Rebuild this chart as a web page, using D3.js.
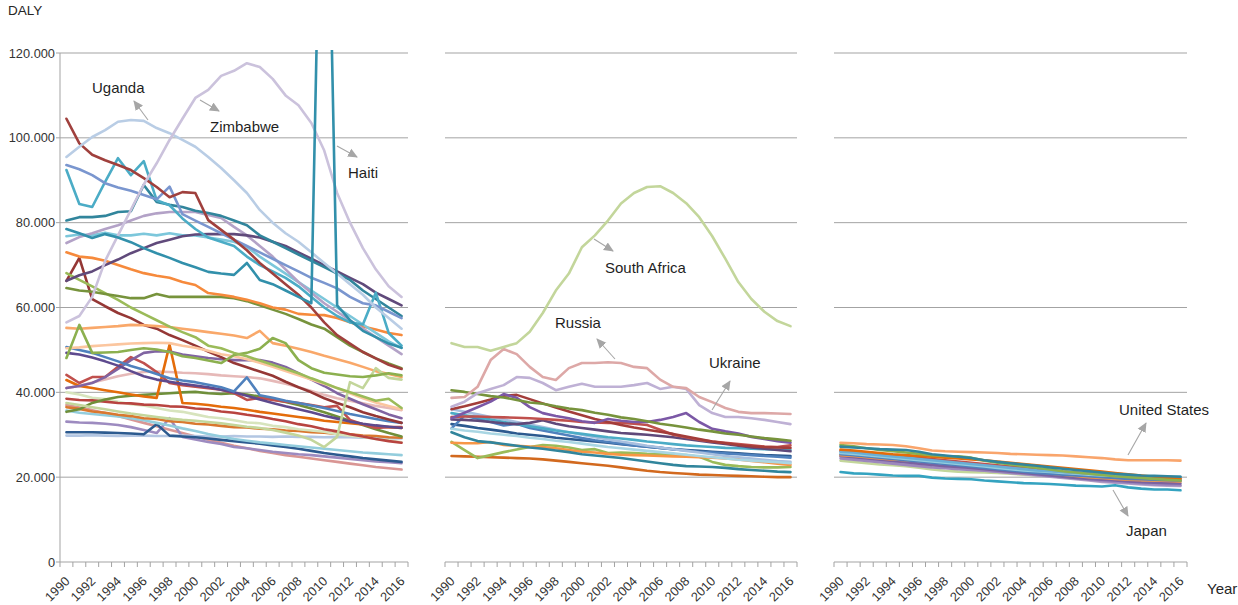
<!DOCTYPE html>
<html><head><meta charset="utf-8">
<script src="https://cdn.jsdelivr.net/npm/d3@7"></script>
<style>
html,body{margin:0;padding:0;background:#fff;}
svg{display:block;font-family:"Liberation Sans",Arial,sans-serif;}
</style></head><body>
<svg id="chart" width="1238" height="605"></svg>
<script>
// Categories and axis ticks (DALY values in thousands)
const years = [1990,1991,1992,1993,1994,1995,1996,1997,1998,1999,2000,2001,2002,2003,2004,2005,2006,2007,2008,2009,2010,2011,2012,2013,2014,2015,2016];
const yTicks = [0,20,40,60,80,100,120];

// ---- Group 1: low- and middle-income countries ----
const zimbabwe   = [56.5,58,62.5,71,77,83,89,94,99.5,104.5,109.4,111.3,114.6,115.8,117.6,116.7,113.9,110,107.7,103.5,97,87,80,74,69,65,62.5];
const uganda     = [95.5,97.9,100.2,101.8,103.8,104.2,104,102.3,101.1,99.5,97.9,95.5,92.9,90,87,83,80,77.5,75.5,73,70.5,68,65.5,63,60,57.5,55];
const g1DarkRed  = [104.5,98.7,96,94.7,93.6,92.4,90.5,88.4,86,87.2,87,80.6,78.3,76,73.5,70.5,68,65.5,63,60,56.5,53.5,51.5,49.5,48,46.5,45.5];
const g1BlueLav  = [93.6,92.6,91.2,89.3,88.3,87.5,86.5,85.5,88.5,82,80.5,79,77.5,76,74.5,73,71.5,70,68.5,67,65.8,64.5,62.5,61,60.5,59,57.5];
const g1Cyan     = [92.4,84.4,83.7,89.6,95.2,91.2,94.5,85.3,84.1,81,78.5,76.5,75.5,74.5,72,70,68.5,67,65,62.5,60,58,56.5,56,63.5,54,51];
const g1TealDark = [80.5,81.3,81.3,81.6,82.5,82.7,88.9,84.9,84.2,83.7,82.8,82.3,81.6,80.5,79.4,77,75.5,74,72.5,71,69.5,68,66.5,64,62,60,58];
const g1DarkPurp = [66.3,67.6,68.5,70,71.3,72.8,74,75.2,76,76.8,77.2,77.3,77.3,77.3,77,76.5,75.5,74.5,73,71.5,70,68.5,67,65.5,63.5,62,60.5];
const g1Lavender = [75.2,76.6,77.5,78.5,79.4,80.5,81.6,82.2,82.5,82.5,82.5,81.8,81.1,79,77,74.5,72,69,66,63.5,61,59,57,55,53,51,49];
const g1LtCyan   = [76.8,77.2,77,77.6,77,77,77.4,77,77.5,77,77,76.5,76,75.5,74.3,72,70,68,66,64,62,60,58,56,54,52,50.5];
const g1TealMid  = [78.5,77.5,76.4,77.3,76.5,75.4,74,72.8,71.7,70.5,69.5,68.4,68,67.7,70.5,66.5,65.5,64,62.5,61,210,60.5,57,54.5,53,51.5,50.5];
const g1Orange   = [73,72,71.7,71,70,69,68.1,67.5,67,66,65.3,63.4,63,62.5,61.8,61,60,59.5,58.5,58.3,58.2,57.5,56.5,55.5,54.8,54,53.5];
const g1Green    = [64.6,64,63.7,63.2,62.7,62.2,62.2,63.2,62.5,62.5,62.5,62.5,62.5,62.2,61.5,60.5,59.5,58.5,57.3,56,55,53,51,49.5,48,46.8,45.7];
const g1LtGreen  = [68.1,66.5,65,63.4,61.8,60,58.5,57,55.5,54.2,53,51,50.4,49.3,48.5,47.5,46.5,45.5,44.5,43.3,42.2,41,40,39,38,38.5,36.3];
const g1GreenB   = [48.1,55.9,49.3,49.4,49.5,50,50.4,50.1,49.5,48.5,48.1,47.5,46.9,48.8,49.3,50.3,52.8,51.6,47.6,45.7,44.6,44.2,43.8,43.6,44,44.5,44];
const g1PaleGrn  = [37.5,37,36.5,36,35.5,35,34.6,34.2,33.8,33.5,33.3,33,32.7,32.3,31.9,31.6,31.1,30.5,29.8,28.8,27.1,29.5,42.4,41,45.7,43.4,43];
const g1LtOrange = [55.2,55,55.2,55.4,55.6,55.9,55.8,55.6,55.4,55,54.6,54.2,53.8,53.4,52.8,54.5,51.6,51,50.3,49.5,48.6,47.8,47,46,45,44.3,43.6];
const g1Peach    = [50.4,50.6,50.9,51.1,51.3,51.5,51.6,51.7,51.6,51,50.5,49.8,49,48.5,47.8,47,46,45,44,43,42,41,39.8,38.6,37.6,36.8,36];
const g1Blue     = [50.7,50,49.3,48.3,47.3,46.2,45.3,44.3,43.3,42.8,42.4,41.8,41.2,40.2,43.5,39.3,38.7,38,37.5,36.9,36.3,35.6,34.9,34.3,33.7,33.2,32.8];
const g1Indigo   = [49.3,48.9,48.2,47.3,46.3,45,43.8,43,42.5,42,41.6,41.2,40.6,40,39.2,38.3,37.5,36.7,36,35.3,34.5,33.8,33.1,32.6,32.2,31.9,31.6];
const g1Purple   = [41,41.5,42.2,43.6,45.5,47.6,49.3,49.7,49.6,48.9,48.5,48.1,47.8,47.6,47.6,47.6,47,46,44.5,43,41.5,39.8,38.5,37.2,36,34.8,33.9];
const g1Red      = [44.1,42.2,43.6,43.6,46,48.3,46.9,44.8,42.2,41.7,41.3,41,40.6,39.8,38.2,38.7,38.2,37.8,37.5,37,36.5,36.8,33.5,32.5,31.6,31.8,31.8];
const g1Maroon   = [66.3,71.7,62,60.3,58.7,57.5,55.9,55,53.5,52.3,51,49.6,48.3,46.9,45.9,44.9,43.9,42.5,41.2,40,38.6,37.5,36.5,35.3,34.4,33.6,32.8];
const g1DkOrange = [42.9,41.5,41,40.5,40,39.5,39,38.7,51.2,37.5,37.3,37,36.6,36.3,35.9,35.4,35,34.6,34.2,33.8,33.3,33,32.7,32.4,32.1,31.8,31.6];
const g1Pink     = [41,41.5,42.3,43,43.8,44.4,44.8,44.9,44.8,44.6,44.5,44.3,44,43.8,43.6,43.3,42.7,42,41.2,40.3,39.4,38.6,38,37.4,36.8,36.3,35.8];
const g1Olive    = [35.4,36,37.5,38.3,38.9,39.2,39.4,39.6,39.8,40,40.1,39.8,39.6,39.8,39.5,39,38.4,37.7,37,36.2,35.3,34.3,33.3,32.3,31.3,30.4,29.6];
const g1Mint     = [40,39.5,38.7,38.4,37.8,37.2,36.9,36.3,35.7,35.4,34.8,34.2,33.9,33.4,32.9,32.7,32.1,31.8,31.3,31,30.7,30.1,29.8,29.5,29,28.7,28.2];
const g1Amber    = [36.5,36.1,35.5,35.2,34.7,34.4,33.9,33.7,33.2,33,32.6,32.4,32.1,31.8,31.7,31.4,31.3,31,30.9,30.6,30.5,30.2,30.1,29.8,29.7,29.4,29.3];
const g1LtBlue   = [35.7,35.2,34.9,34.6,34.3,33.9,33.4,32.8,32.2,31.5,30.9,30.2,29.6,29,28.6,28.2,27.9,27.6,27.3,27,26.7,26.4,26.1,25.8,25.6,25.4,25.2];
const g1Navy     = [30.6,30.6,30.6,30.5,30.4,30.3,30.1,32.5,29.8,29.6,29.4,29.1,28.8,28.5,28.2,27.9,27.5,27.1,26.7,26.2,25.7,25.3,24.9,24.5,24.2,23.9,23.6];
const g1Steel    = [29.8,29.8,29.9,29.8,29.7,29.8,29.8,29.7,29.7,29.8,29.7,29.6,29.6,29.7,29.6,29.6,29.5,29.6,29.5,29.5,29.4,29.5,29.4,29.3,29.3,29.2,29.1];
const g1Lilac    = [33.1,32.9,32.8,32.6,32.3,31.8,31.1,30.4,33.9,29.5,28.9,28.3,27.8,27.1,26.8,26.4,26,25.7,25.4,25.2,24.9,24.6,24.3,24,23.7,23.5,23.3];
const g1Rose     = [37,36.4,35.8,35.1,34.4,33.6,32.8,32,31.2,30.4,29.6,28.8,28.1,27.4,26.8,26.2,25.7,25.2,24.8,24.4,24,23.6,23.2,22.8,22.4,22.1,21.8];
const g1Brick    = [38.5,38.2,38.1,37.8,37.5,37.4,37.1,37,36.7,36.6,36.2,36,35.5,35.2,34.7,34.3,33.7,33.2,32.5,32,31.3,30.8,30.1,29.6,29,28.5,28.1];

// ---- Group 2: transition countries ----
const southAfrica = [51.6,50.7,50.7,49.8,50.7,51.6,54.3,58.7,64,68,74.2,77,80.5,84.5,87,88.4,88.6,87,84.6,81.3,76.8,71.5,66,62,59,56.8,55.6];
const russia      = [38.7,38.9,41.3,47.6,50.2,49,46,43.6,42.9,45.7,46.9,46.9,47.1,46.9,46,45.7,43,41.3,41,38.9,37.7,36.3,35.4,35.1,35.1,35,34.9];
const ukraine     = [36.6,37.8,39.8,40.8,41.7,43.6,43.4,42.2,40.5,41.3,42,41.3,41.3,41.3,41.7,42.2,40.8,41.3,40.8,37,35.1,34.2,34.2,33.9,33.5,33,32.5];
const g2Green     = [40.5,40.1,39.6,39.1,38.8,38.2,37.6,37.3,36.7,36.2,35.8,35.2,34.7,34.1,33.7,33.2,32.6,32.2,31.7,31.2,30.8,30.3,30,29.6,29.2,28.9,28.6];
const g2Purple    = [33.9,35.2,36.5,37.8,39.6,38.7,36.5,35.1,34.4,33.9,33.2,32.8,33.7,33.3,33,33,33.5,34.2,35.1,33,31.4,30.8,30.3,29.5,29,28.5,28.1];
const g2Maroon    = [36,36.7,37.5,38.3,39.2,39.4,38.4,37.4,36.4,35.5,34.6,33.7,33,32.3,31.7,31.2,30.7,30.2,29.6,29,28.4,28,27.6,27.3,27.1,27,26.9];
const g2Red       = [34.2,34.3,34.3,34.2,34.1,34,33.9,33.7,33.5,33.3,33,32.9,32.8,32.8,32.6,32.3,31.2,30,29.4,28.8,28.4,28.1,27.8,27.5,27.2,27.1,27.5];
const g2DarkPurp  = [33.6,33.5,33.3,33,32.7,32.5,32.8,33.4,32.6,32,31.6,31.2,30.8,30.4,30.2,30,29.7,29.4,29,28.6,28.2,27.8,27.4,27,26.7,26.4,26.1];
const g2Cyan      = [35.1,34.6,34.2,33.6,33,32.5,32,31.5,31,30.6,30.2,29.8,29.4,29.1,28.8,28.4,28.1,27.8,27.5,27.3,27.1,26.9,26.8,26.7,26.6,26.5,26.4];
const g2LtBlue    = [31.4,31,30.7,30.3,30,29.7,29.3,29,28.6,28.3,27.9,27.5,27.1,26.8,26.5,26.2,25.9,25.6,25.3,25,24.7,24.4,24.1,23.9,23.7,23.5,23.3];
const g2Steel     = [36,35.4,34.8,34.2,33.6,33,32.4,31.8,31.2,30.6,30,29.4,28.9,28.4,27.9,27.4,27,26.6,26.2,25.8,25.4,25,24.7,24.4,24.1,23.8,23.6];
const g2Blue      = [31.5,34.5,33.8,33,32.2,32.6,31.6,31,30.4,29.8,29.2,28.7,28.3,27.9,27.5,27.2,26.9,26.6,26.3,26,25.8,25.6,25.4,25.2,25,24.8,24.6];
const g2Navy      = [32.5,32.1,31.6,31.2,30.8,30.3,30,29.7,29.3,29,28.7,28.4,28.1,27.8,27.5,27.2,26.9,26.6,26.4,26.2,26,25.8,25.6,25.4,25.2,25.1,25];
const g2Teal      = [30.6,29.4,28.5,28.2,27.8,27.4,27,26.7,26.3,25.9,25.4,25.1,24.8,24.5,24.1,23.7,23.3,22.9,22.6,22.5,22.4,22.2,21.9,21.7,21.5,21.3,21.2];
const g2Orange    = [28.1,28,28,28.3,27.6,27.4,27.2,27.1,26.8,26.4,26,25.8,25.5,25.3,25.2,25.1,25,24.9,24.8,24.7,24.6,24.4,24.2,23.8,23.5,23.2,22.9];
const g2LtGreen   = [28.3,26.4,24.5,25.2,25.9,26.5,27.1,27.6,27.4,27,26.4,26.6,25.7,25.8,25.7,25.5,25.4,25.3,25.2,24.8,23.6,22.9,22.6,22.4,22.3,22.3,22.4];
const g2DkOrange  = [25,24.9,24.8,24.7,24.6,24.5,24.4,24.2,23.9,23.6,23.3,23,22.7,22.3,21.9,21.5,21.2,21,20.8,20.6,20.5,20.4,20.3,20.2,20.1,20,20];

// ---- Group 3: high-income countries ----
const unitedStates = [28.1,28,27.8,27.7,27.6,27.3,26.8,26.3,26.1,26,25.9,25.8,25.7,25.5,25.4,25.3,25.2,25.1,24.9,24.7,24.5,24.2,24,24,24,24,23.9];
const japan        = [21.2,20.9,20.8,20.6,20.4,20.3,20.3,19.9,19.7,19.6,19.5,19.2,19,18.8,18.6,18.5,18.4,18.2,18,17.9,17.8,18.1,17.6,17.3,17.1,17.1,16.9];
const g3Teal       = [27.2,27,26.8,26.6,26.5,26.4,26,25.4,25.1,24.8,24.5,24,23.6,23.3,23,22.7,22.3,22,21.7,21.4,21.1,20.8,20.6,20.4,20.3,20.2,20.1];
const g3Green      = [27.6,27.3,26.8,26.4,26.1,25.8,25.5,25.2,25,24.9,24.6,23.9,23.4,23,22.6,22.2,21.8,21.4,21.1,20.8,20.5,20.2,20,19.8,19.6,19.4,19.2];
const g3DkOrange   = [26.5,26.3,26,25.7,25.4,25.2,25,24.8,24.6,24.4,24.2,24,23.7,23.4,23.1,22.8,22.5,22.2,21.9,21.6,21.3,21,20.7,20.4,20.1,19.8,19.6];
const g3Cyan       = [26,25.8,25.5,25.2,24.9,24.6,24.3,24,23.7,23.4,23.1,22.8,22.5,22.2,21.9,21.6,21.4,21.2,21,20.8,20.6,20.4,20.2,20.1,20,20,20];
const g3Blue       = [25.4,25.2,24.9,24.6,24.3,24,23.7,23.4,23.1,22.8,22.5,22.2,21.9,21.6,21.3,21,20.8,20.6,20.4,20.2,20,19.8,19.6,19.5,19.4,19.3,19.2];
const g3Purple     = [25,24.7,24.4,24.1,23.8,23.5,23.2,22.9,22.6,22.4,22.2,21.9,21.6,21.3,21,20.7,20.4,20.1,19.8,19.6,19.4,19.2,19,18.8,18.7,18.6,18.5];
const g3Lavender   = [24.4,24.1,23.8,23.5,23.2,22.9,22.6,22.3,22.1,21.9,21.7,21.5,21.3,21,20.8,20.5,20.2,20,19.7,19.4,19.1,18.9,18.7,18.5,18.3,18.2,18.1];
const g3PaleGreen  = [23.9,23.6,23.3,23,22.8,22.6,22.2,21.8,21.5,21.3,21.2,21.1,21,20.8,20.6,20.4,20.2,20,19.8,19.6,19.4,19.3,19.2,19.1,19,19,19];
const g3Orange     = [25.2,25,24.7,24.4,24.2,24,23.8,23.6,23.3,23,22.7,22.4,22.1,21.8,21.5,21.2,20.9,20.6,20.3,20,19.8,19.6,19.4,19.3,19.2,19.1,19];
const g3Red        = [26.2,26,25.7,25.4,25.2,24.9,24.6,24.3,24,23.7,23.4,23.1,22.8,22.5,22.2,21.9,21.6,21.3,21.1,20.9,20.7,20.5,20.3,20.1,19.9,19.8,19.7];
const g3Lilac      = [24.8,24.5,24.2,23.9,23.7,23.4,23.1,22.8,22.5,22.2,21.9,21.6,21.3,21,20.7,20.4,20.1,19.8,19.5,19.2,18.9,18.7,18.5,18.3,18.1,18,17.9];
const g3LtBlue     = [25.7,25.5,25.2,24.9,24.6,24.3,24,23.7,23.4,23.1,22.8,22.5,22.2,21.9,21.6,21.4,21.2,21,20.8,20.6,20.4,20.3,20.2,20.1,20.1,20.1,20.1];

// Series per panel, drawn first-to-last
const group1 = [g1Rose,g1Lilac,g1Steel,g1Navy,g1LtBlue,g1Amber,g1Mint,g1Brick,g1Olive,g1Pink,g1DkOrange,g1Red,g1Purple,g1Indigo,g1Blue,g1Maroon,g1Peach,g1LtOrange,g1PaleGrn,g1GreenB,g1LtGreen,g1Green,g1Orange,g1LtCyan,g1Lavender,g1DarkPurp,g1TealDark,g1Cyan,g1BlueLav,g1DarkRed,uganda,zimbabwe,g1TealMid];
const group1Colors = ["#d99694","#9d8bc0","#b3c6e2","#2c5a8f","#93cddd","#d9782f","#d7e4bd","#b84440","#6f8f3a","#e6b9b8","#e46c0a","#c0504d","#8064a2","#5e4a8e","#4f81bd","#953735","#fbc69f","#f9a86a","#c3d69b","#8cb04f","#9bbb59","#77933c","#f68a3c","#7cc7db","#b3a2c7","#604a7b","#31859c","#4bacc6","#7a96cf","#a0403d","#b9cde5","#cbc2dc","#3290ab"];

const group2 = [g2DkOrange,g2LtGreen,g2Orange,g2Teal,g2Navy,g2Blue,g2Steel,g2LtBlue,g2Cyan,g2DarkPurp,g2Red,g2Maroon,g2Purple,g2Green,ukraine,russia,southAfrica];
const group2Colors = ["#d2691e","#9bbb59","#f79646","#31859c","#2c5a8f","#4f81bd","#a7bfdf","#a9d6e3","#4bacc6","#5f497a","#c0504d","#a33d3a","#7b58a6","#77933c","#bfb1d5","#dda8a7","#c3d69b"];

const group3 = [japan,g3PaleGreen,g3Lilac,g3Lavender,g3Purple,g3Orange,g3Blue,g3LtBlue,g3Red,g3Cyan,g3DkOrange,g3Green,g3Teal,unitedStates];
const group3Colors = ["#34a3c0","#c3d69b","#b3a2c7","#9d87bd","#7a62a0","#f79646","#4f81bd","#93cddd","#c0504d","#6aaed6","#e46c0a","#8cb04f","#31859c","#f9a56c"];

// Labelled countries with their pointer arrows
const notes = [
  {text:"Uganda",       tx:92,   ty:93,  a:[148,120,134,101]},
  {text:"Zimbabwe",     tx:210,  ty:132, a:[200,100,219,111]},
  {text:"Haiti",        tx:348,  ty:178, a:[337,146,357,157]},
  {text:"South Africa", tx:605,  ty:273, a:[594,239,613,251]},
  {text:"Russia",       tx:555,  ty:328, a:[615,359,597,339]},
  {text:"Ukraine",      tx:709,  ty:368, a:[712,410,730,381]},
  {text:"United States",tx:1119, ty:415, a:[1128,455,1146,423]},
  {text:"Japan",        tx:1126, ty:536, a:[1113,490,1128,516]}
];

const svg = d3.select("#chart");
const plotTop = 53, plotBottom = 562;
const y = d3.scaleLinear().domain([0,120]).range([plotBottom, plotTop]);
const grid = "#a3a3a3";
const fmt = d3.formatLocale({decimal:",", thousands:".", grouping:[3], currency:["",""]}).format(",");

const panels = [
  {x0:60,  x1:408,  series:group1, colors:group1Colors, yAxis:true},
  {x0:445, x1:797,  series:group2, colors:group2Colors},
  {x0:834, x1:1187, series:group3, colors:group3Colors}
];

const defs = svg.append("defs");
defs.append("marker").attr("id","arrowhead")
  .attr("viewBox","0 0 10 10").attr("refX",9).attr("refY",5)
  .attr("markerUnits","userSpaceOnUse").attr("markerWidth",10).attr("markerHeight",10)
  .attr("orient","auto")
  .append("path").attr("d","M0,0.5 L10,5 L0,9.5 Z").attr("fill","#a6a6a6");

panels.forEach((p, pi) => {
  const x = d3.scaleBand().domain(years).range([p.x0, p.x1]).paddingInner(0).paddingOuter(0);
  const g = svg.append("g");

  // horizontal gridlines
  g.selectAll("line.grid").data(yTicks.filter(t => t > 0)).enter().append("line")
    .attr("x1", p.x0).attr("x2", p.x1)
    .attr("y1", d => y(d)).attr("y2", d => y(d))
    .attr("stroke", grid).attr("stroke-width", 1);

  // category axis with boundary ticks
  g.append("line").attr("x1", p.x0).attr("x2", p.x1).attr("y1", plotBottom).attr("y2", plotBottom)
    .attr("stroke", grid).attr("stroke-width", 1);
  const bounds = years.map(yr => x(yr)).concat([p.x1]);
  g.selectAll("line.tick").data(bounds).enter().append("line")
    .attr("x1", d => d).attr("x2", d => d).attr("y1", plotBottom).attr("y2", plotBottom + 5)
    .attr("stroke", grid).attr("stroke-width", 1);

  g.selectAll("text.year").data(years.filter((yr, i) => i % 2 === 0)).enter().append("text")
    .attr("transform", d => `translate(${x(d) + x.bandwidth()/2 + 4},${plotBottom + 20}) rotate(-45)`)
    .attr("text-anchor", "end")
    .attr("font-size", 12.8).attr("fill", "#333")
    .text(d => d);

  if (p.yAxis) {
    g.append("line").attr("x1", p.x0).attr("x2", p.x0).attr("y1", plotTop).attr("y2", plotBottom)
      .attr("stroke", grid).attr("stroke-width", 1);
    g.selectAll("line.ytick").data(yTicks).enter().append("line")
      .attr("x1", p.x0 - 4).attr("x2", p.x0).attr("y1", d => y(d)).attr("y2", d => y(d))
      .attr("stroke", grid);
    g.selectAll("text.ylab").data(yTicks).enter().append("text")
      .attr("x", p.x0 - 5).attr("y", d => y(d) + 4.5)
      .attr("text-anchor", "end").attr("font-size", 12.8).attr("fill", "#333")
      .text(d => fmt(d * 1000));
  }

  // clip the plot area at the top of the value axis
  const cid = "clip" + pi;
  defs.append("clipPath").attr("id", cid).append("rect")
    .attr("x", p.x0 - 10).attr("y", plotTop - 3).attr("width", p.x1 - p.x0 + 20).attr("height", plotBottom - plotTop + 10);

  const line = d3.line()
    .x((d, i) => x(years[i]) + x.bandwidth()/2)
    .y(d => y(d))
    .curve(d3.curveLinear);

  g.append("g").attr("clip-path", `url(#${cid})`)
    .selectAll("path").data(p.series).enter().append("path")
    .attr("d", d => line(d))
    .attr("fill", "none")
    .attr("stroke", (d, i) => p.colors[i])
    .attr("stroke-width", 2.6)
    .attr("stroke-linejoin", "round")
    .attr("stroke-linecap", "round");
});

// axis titles
svg.append("text").attr("x", 8).attr("y", 15).attr("font-size", 13.5).attr("fill", "#262626").text("DALY");
svg.append("text").attr("x", 1207).attr("y", 594).attr("font-size", 15).attr("fill", "#262626").text("Year");

// country annotations
const ng = svg.append("g");
ng.selectAll("line").data(notes).enter().append("line")
  .attr("x1", d => d.a[0]).attr("y1", d => d.a[1]).attr("x2", d => d.a[2]).attr("y2", d => d.a[3])
  .attr("stroke", "#a6a6a6").attr("stroke-width", 1.1)
  .attr("marker-end", "url(#arrowhead)");
ng.selectAll("text").data(notes).enter().append("text")
  .attr("x", d => d.tx).attr("y", d => d.ty)
  .attr("font-size", 15).attr("fill", "#1f1f1f")
  .text(d => d.text);
</script>
</body></html>
